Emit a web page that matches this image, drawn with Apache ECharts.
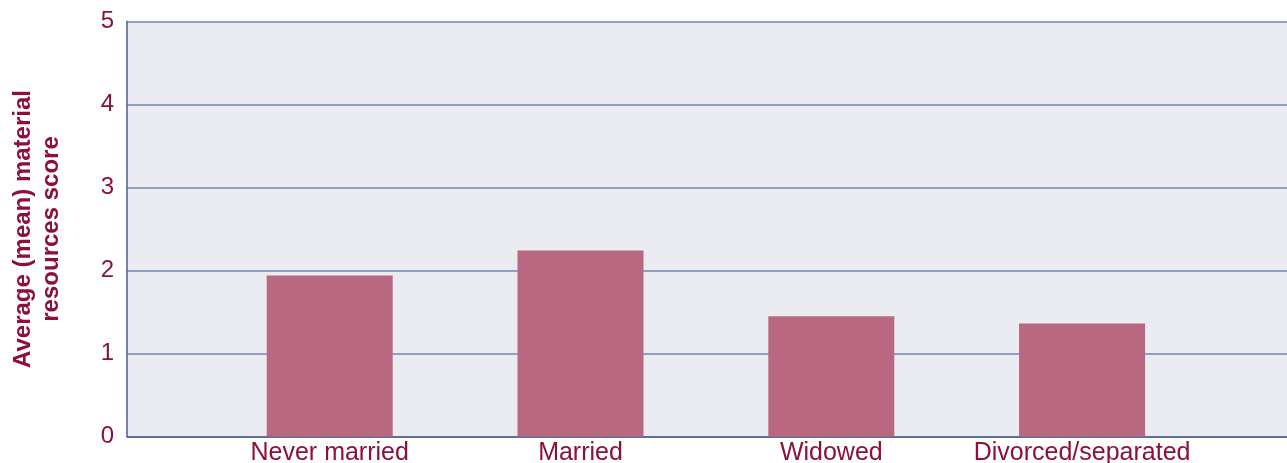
<!DOCTYPE html>
<html>
<head>
<meta charset="utf-8">
<script src="https://cdn.jsdelivr.net/npm/echarts@6/dist/echarts.min.js"></script>
<style>
  html, body { margin: 0; padding: 0; background: #ffffff; }
  #chart { width: 1287px; height: 463px; }
</style>
</head>
<body>
<div id="chart"></div>
<script>
// data
const categories = ['Never married', 'Married', 'Widowed', 'Divorced/separated'];
const scores = [1.94, 2.24, 1.45, 1.36];
const yTicks = [0, 1, 2, 3, 4, 5];

const textColor = '#8c0f3d';
const lineColor = '#4c5e8f';

const chart = echarts.init(document.getElementById('chart'));

const option = {
  backgroundColor: '#ffffff',
  animation: false,
  grid: [
    // bars sit in this one, narrower so the slots line up with the picture
    { left: 204.3, width: 1003.2, top: 21.5, bottom: 26.5, show: false, containLabel: false, outerBoundsMode: 'none' },
    // the visible plot frame, background and gridlines
    { left: 127, right: 0, top: 21.5, bottom: 26.5, show: true, backgroundColor: '#ebecf2', borderWidth: 0, containLabel: false, outerBoundsMode: 'none' }
  ],
  xAxis: [
    {
      gridIndex: 0,
      type: 'category',
      data: categories,
      axisLine: { show: false },
      axisTick: { show: false },
      axisLabel: {
        interval: 0,
        color: textColor,
        fontSize: 25,
        fontFamily: 'Liberation Sans, Arial, sans-serif',
        margin: 4
      }
    },
    {
      gridIndex: 1,
      type: 'value',
      min: 0,
      max: 1,
      axisLine: { show: true, lineStyle: { color: lineColor, width: 1.5 } },
      axisTick: { show: false },
      axisLabel: { show: false },
      splitLine: { show: false }
    }
  ],
  yAxis: [
    {
      gridIndex: 0,
      type: 'value',
      min: yTicks[0],
      max: yTicks[yTicks.length - 1],
      interval: 1,
      show: false
    },
    {
      gridIndex: 1,
      type: 'value',
      min: yTicks[0],
      max: yTicks[yTicks.length - 1],
      interval: 1,
      name: 'Average (mean) material\nresources score',
      nameLocation: 'middle',
      nameGap: 62,
      nameTextStyle: {
        color: textColor,
        fontSize: 24,
        fontWeight: 'bold',
        fontFamily: 'Liberation Sans, Arial, sans-serif',
        lineHeight: 28,
        align: 'center'
      },
      axisLine: { show: true, lineStyle: { color: lineColor, width: 1.5 } },
      axisTick: { show: false },
      axisLabel: {
        color: textColor,
        fontSize: 24,
        fontFamily: 'Liberation Sans, Arial, sans-serif',
        margin: 13
      },
      splitLine: { show: true, lineStyle: { color: '#7486b3', width: 1.5 } }
    }
  ],
  series: [
    {
      type: 'bar',
      xAxisIndex: 0,
      yAxisIndex: 0,
      data: scores,
      barWidth: 126,
      itemStyle: { color: '#ba6782' }
    }
  ]
};

chart.setOption(option);
</script>
</body>
</html>
